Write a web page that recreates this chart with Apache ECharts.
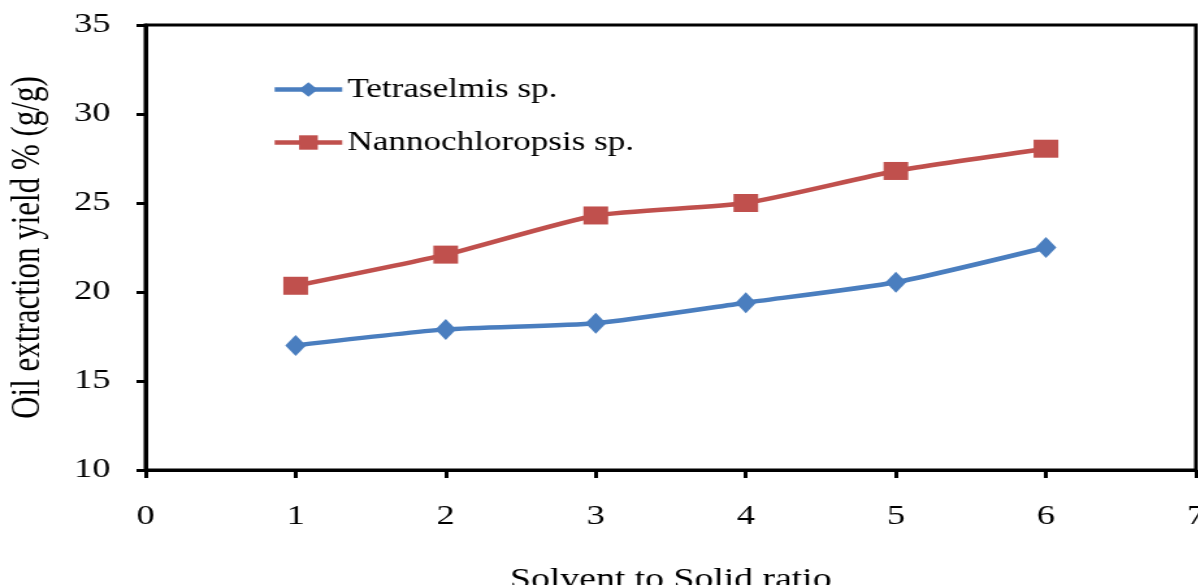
<!DOCTYPE html>
<html>
<head>
<meta charset="utf-8">
<script src="https://cdn.jsdelivr.net/npm/echarts@6/dist/echarts.min.js"></script>
<style>
  html, body { margin: 0; padding: 0; background: #fff; overflow: hidden; width: 1198px; height: 585px; }
  #chart { width: 922px; height: 585px; transform: scaleX(1.3); transform-origin: 0 0; }
</style>
</head>
<body>
<div id="chart"></div>
<script>
const ratios = [1, 2, 3, 4, 5, 6];
const tetraselmis = [17.0, 17.9, 18.25, 19.4, 20.55, 22.5];
const nannochloropsis = [20.35, 22.1, 24.3, 25.0, 26.8, 28.05];
const seriesNames = ['Tetraselmis sp.', 'Nannochloropsis sp.'];
const xTitle = 'Solvent to Solid ratio';
const yTitle = 'Oil extraction yield % (g/g)';

const font = 'Liberation Serif';
const chart = echarts.init(document.getElementById('chart'), null, { renderer: 'canvas' });
const pair = (xs, ys) => xs.map((x, i) => [x, ys[i]]);

chart.setOption({
  animation: false,
  backgroundColor: '#fff',
  textStyle: { fontFamily: font, color: '#000' },
  grid: { left: 112, right: 2, top: 25, bottom: 115, show: true, borderColor: '#000', borderWidth: 3,
          containLabel: false, outerBoundsMode: 'none' },
  legend: {
    orient: 'vertical', left: 204, top: 71, itemGap: 26, itemWidth: 52, itemHeight: 18,
    lineStyle: { width: 4.5 },
    textStyle: { fontFamily: font, fontSize: 27, color: '#000', padding: [0, 0, 0, -1] },
    data: seriesNames
  },
  xAxis: {
    type: 'value', min: 0, max: 7, interval: 1,
    name: xTitle, nameLocation: 'middle', nameGap: 96,
    nameTextStyle: { fontFamily: font, fontSize: 29, color: '#000' },
    axisLine: { show: true, lineStyle: { color: '#000', width: 3 } },
    axisTick: { show: true, inside: false, length: 8, lineStyle: { color: '#000', width: 3 } },
    axisLabel: { fontFamily: font, fontSize: 28, color: '#000', margin: 33 },
    splitLine: { show: false }
  },
  yAxis: {
    type: 'value', min: 10, max: 35, interval: 5,
    name: yTitle, nameLocation: 'middle', nameGap: 75, nameRotate: 90,
    nameTextStyle: { fontFamily: font, fontSize: 31, color: '#000' },
    axisLine: { show: true, lineStyle: { color: '#000', width: 3 } },
    axisTick: { show: true, inside: false, length: 7, lineStyle: { color: '#000', width: 3 } },
    axisLabel: { fontFamily: font, fontSize: 28, color: '#000', margin: 27 },
    splitLine: { show: false }
  },
  series: [
    {
      name: seriesNames[0], type: 'line', data: pair(ratios, tetraselmis),
      smooth: 0.2, symbol: 'diamond', symbolSize: [16, 21],
      lineStyle: { color: '#4a7ebf', width: 4.5 },
      itemStyle: { color: '#4a7ebf' }
    },
    {
      name: seriesNames[1], type: 'line', data: pair(ratios, nannochloropsis),
      smooth: 0.2, symbol: 'rect', symbolSize: [19, 18],
      lineStyle: { color: '#c0504d', width: 4.5 },
      itemStyle: { color: '#c0504d' }
    }
  ]
});
</script>
</body>
</html>
